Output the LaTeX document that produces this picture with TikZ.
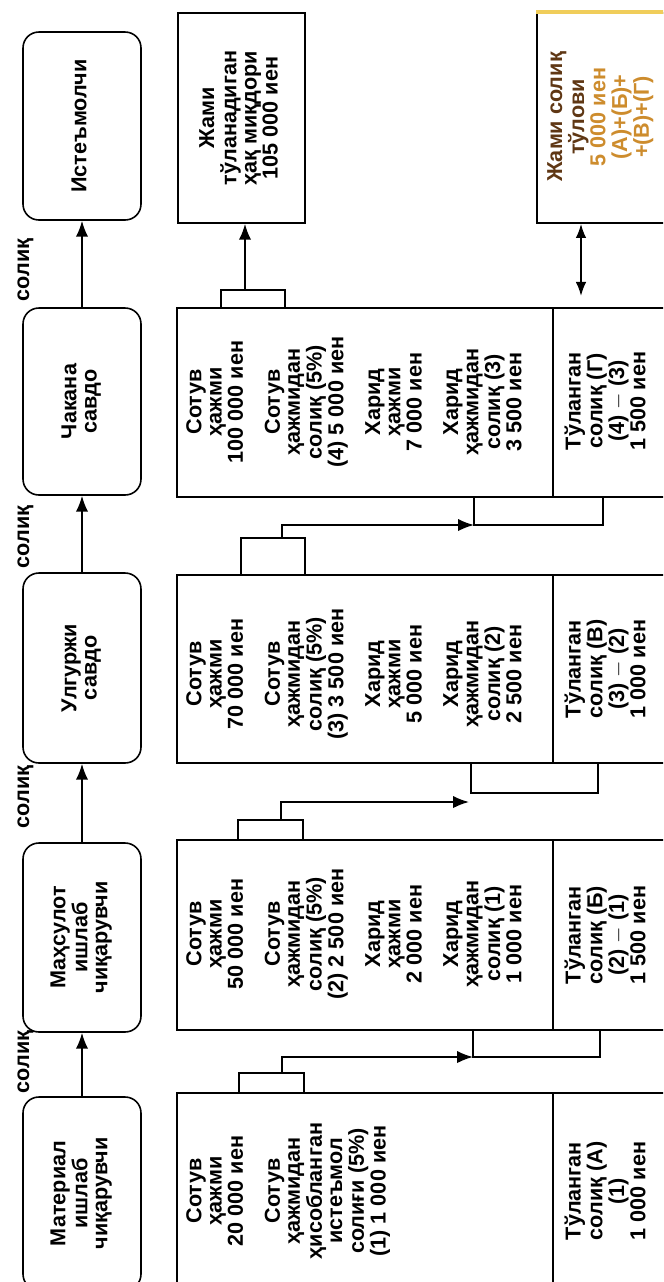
\documentclass[tikz,border=0pt]{standalone}
\usepackage{graphicx}
\usepackage{fontspec}
\setmainfont{Liberation Sans}
\usetikzlibrary{arrows.meta}
\definecolor{darkbrown}{RGB}{95,55,20}
\definecolor{scanorange}{RGB}{205,140,45}
\definecolor{scanyellow}{RGB}{240,205,90}
\newcommand{\rtx}[1]{\rotatebox{90}{\begin{tabular}{@{}c@{}}#1\end{tabular}}}
\begin{document}
\begin{tikzpicture}[x=0.02cm,y=-0.02cm,
  every node/.style={font=\bfseries\fontsize{12.3}{11.5}\selectfont},
  txt/.style={inner sep=0pt},
  rbox/.style={draw, line width=0.9pt, rounded corners=9pt, inner sep=0pt, minimum width=2.36cm},
  mbox/.style={draw, line width=1pt, inner sep=0pt, minimum width=7.52cm},
  sbox/.style={draw, line width=1pt, inner sep=0pt, minimum width=2.6cm},
  arr/.style={line width=1pt, -{Latex[length=9pt,width=7pt]}},
  darr/.style={line width=1pt, {Latex[length=8pt,width=6pt]}-{Latex[length=8pt,width=6pt]}},
  brk/.style={line width=1pt}
]
\useasboundingbox (0,0) rectangle (663,1282);
\clip (0,0) rectangle (663,1282);

% left column: participants
\node[rbox, minimum height=3.76cm] (ist) at (82,126) {\rtx{Истеъмолчи}};
\node[rbox, minimum height=3.74cm] (chak) at (82,401.5) {\rtx{Чакана\\савдо}};
\node[rbox, minimum height=3.8cm] (ulg) at (82,668) {\rtx{Улгуржи\\савдо}};
\node[rbox, minimum height=3.78cm] (mah) at (82,937.5) {\rtx{Маҳсулот\\ишлаб\\чиқарувчи}};
\node[rbox, minimum height=3.86cm] (mat) at (82,1193.5) {\rtx{Материал\\ишлаб\\чиқарувчи}};

\draw[arr] (mat.north) -- (mah.south);
\draw[arr] (mah.north) -- (ulg.south);
\draw[arr] (ulg.north) -- (chak.south);
\draw[arr] (chak.north) -- (ist.south);

\node[txt] (s1) at (25,270) {\rtx{солиқ}};
\node[txt] (s2) at (25,537) {\rtx{солиқ}};
\node[txt] (s3) at (25,797) {\rtx{солиқ}};
\node[txt] (s4) at (25,1062) {\rtx{солиқ}};

% top boxes
\node[draw, line width=1pt, minimum width=2.54cm, minimum height=4.2cm, inner sep=0pt] (jami) at (241.5,118)
  {\rtx{Жами\\тўланадиган\\ҳақ миқдори\\105 000 иен}};
\node[draw, line width=1pt, minimum width=3.06cm, minimum height=4.2cm, inner sep=0pt] (jsol) at (613.5,118) {};
\draw[scanyellow, line width=2.2pt] (jsol.north west) -- (jsol.north east);
\node[txt] (jsoltxt) at (601,117) {\rtx{\textcolor{darkbrown}{Жами солиқ}\\\textcolor{darkbrown}{тўлови}\\\textcolor{scanorange}{5 000 иен}\\\textcolor{scanorange}{(А)+(Б)+}\\\textcolor{scanorange}{+(В)+(Г)}}};

% main boxes
\node[mbox, minimum height=3.78cm] (chakM) at (365,402.5) {};
\node[mbox, minimum height=3.76cm] (ulgM) at (365,669) {};
\node[mbox, minimum height=3.8cm] (mahM) at (365,935) {};
\node[mbox, minimum height=4.04cm] (matM) at (365,1194) {};

\node[sbox, minimum height=3.78cm] (chakS) at (618,402.5) {};
\node[sbox, minimum height=3.76cm] (ulgS) at (618,669) {};
\node[sbox, minimum height=3.8cm] (mahS) at (618,935) {};
\node[sbox, minimum height=4.04cm] (matS) at (618,1194) {};

% texts in main boxes
\node[txt, anchor=west] (chakT) at (186,402) {\rtx{Сотув\\ҳажми\\100 000 иен\\[9pt]Сотув\\ҳажмидан\\солиқ (5\%)\\(4) 5 000 иен\\[9pt]Харид\\ҳажми\\7 000 иен\\[9pt]Харид\\ҳажмидан\\солиқ (3)\\3 500 иен}};
\node[txt, anchor=west] (ulgT) at (186,674) {\rtx{Сотув\\ҳажми\\70 000 иен\\[9pt]Сотув\\ҳажмидан\\солиқ (5\%)\\(3) 3 500 иен\\[9pt]Харид\\ҳажми\\5 000 иен\\[9pt]Харид\\ҳажмидан\\солиқ (2)\\2 500 иен}};
\node[txt, anchor=west] (mahT) at (186,934) {\rtx{Сотув\\ҳажми\\50 000 иен\\[9pt]Сотув\\ҳажмидан\\солиқ (5\%)\\(2) 2 500 иен\\[9pt]Харид\\ҳажми\\2 000 иен\\[9pt]Харид\\ҳажмидан\\солиқ (1)\\1 000 иен}};
\node[txt, anchor=west] (matT) at (186,1191) {\rtx{Сотув\\ҳажми\\20 000 иен\\[9pt]Сотув\\ҳажмидан\\ҳисобланган\\истеъмол\\солиғи (5\%)\\(1) 1 000 иен}};

\node[txt] (chakP) at (608,401) {\rtx{Тўланган\\солиқ (Г)\\(4) $-$ (3)\\1 500 иен}};
\node[txt] (ulgP) at (608,669) {\rtx{Тўланган\\солиқ (В)\\(3) $-$ (2)\\1 000 иен}};
\node[txt] (mahP) at (608,935) {\rtx{Тўланган\\солиқ (Б)\\(2) $-$ (1)\\1 500 иен}};
\node[txt] (matP) at (608,1191) {\rtx{Тўланган\\солиқ (А)\\(1)\\1 000 иен}};

% brackets and connectors: material -> mahsulot
\draw[brk] (239,1093) -- (239,1073) -- (304,1073) -- (304,1093);
\draw[brk] (473,1030) rectangle (600,1057);
\coordinate (a1) at (282,1073);
\coordinate (b1) at (473,1057);
\draw[arr] (a1) |- (b1);

% mahsulot -> ulgurji
\draw[brk] (238,840) -- (238,820) -- (303,820) -- (303,840);
\draw[brk] (471,763) rectangle (598,793);
\coordinate (a2) at (281,820);
\coordinate (b2) at (469,802);
\draw[arr] (a2) |- (b2);

% ulgurji -> chakana
\draw[brk] (241,575) -- (241,538) -- (305,538) -- (305,575);
\draw[brk] (474,497) rectangle (603,525);
\coordinate (a3) at (282,538);
\coordinate (b3) at (474,525);
\draw[arr] (a3) |- (b3);

% chakana -> jami
\draw[brk] (221,308) -- (221,290) -- (285,290) -- (285,308);
\coordinate (a4) at (245,290);
\draw[arr] (a4) -- (a4 |- jami.south);

% paid tax -> total tax
\coordinate (a5) at (581,296);
\draw[darr] (a5) -- (a5 |- jsol.south);
\end{tikzpicture}
\end{document}
